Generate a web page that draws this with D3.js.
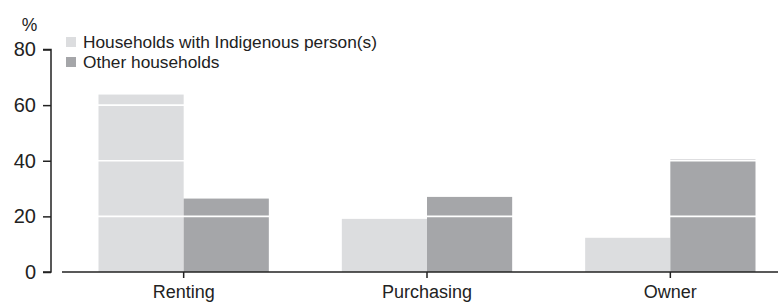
<!DOCTYPE html>
<html>
<head>
<meta charset="utf-8">
<script src="https://cdn.jsdelivr.net/npm/d3@7"></script>
<style>
  body { margin: 0; background: #fff; }
  svg text { font-family: "Liberation Sans", Arial, sans-serif; fill: #222; }
</style>
</head>
<body>
<div id="chart"></div>
<script>
var categories = ['Renting', 'Purchasing', 'Owner'];
var seriesNames = ['Households with Indigenous person(s)', 'Other households'];
var indigenous = [63.8, 19.1, 12.3];
var other = [26.4, 27.0, 40.4];
var yTicks = [0, 20, 40, 60, 80];

var colors = ['#dcdddf', '#a5a6a9'];

var width = 778, height = 302;
var margin = { left: 62, right: -14, top: 49.5, bottom: 30 };

var svg = d3.select('#chart')
    .append('svg')
    .attr('width', width)
    .attr('height', height);

var x = d3.scaleBand()
    .domain(categories)
    .range([margin.left, width - margin.right])
    .paddingInner(0.3)
    .paddingOuter(0.15);

var xs = d3.scaleBand()
    .domain([0, 1])
    .range([0, x.bandwidth()]);

var y = d3.scaleLinear()
    .domain([0, 80])
    .range([height - margin.bottom, margin.top]);

var rows = categories.map(function(c, i) {
    return { cat: c, values: [indigenous[i], other[i]] };
});

// bars
var groups = svg.append('g')
    .selectAll('g')
    .data(rows)
    .enter()
    .append('g')
    .attr('transform', function(d) { return 'translate(' + x(d.cat) + ',0)'; });

groups.selectAll('rect')
    .data(function(d) { return d.values; })
    .enter()
    .append('rect')
    .attr('x', function(d, i) { return xs(i); })
    .attr('width', xs.bandwidth())
    .attr('y', function(d) { return y(d); })
    .attr('height', function(d) { return y(0) - y(d); })
    .attr('fill', function(d, i) { return colors[i]; });

// white gridlines over the bars
svg.append('g')
    .selectAll('line')
    .data(yTicks.filter(function(t) { return t > 0; }))
    .enter()
    .append('line')
    .attr('x1', margin.left)
    .attr('x2', width)
    .attr('y1', function(d) { return y(d); })
    .attr('y2', function(d) { return y(d); })
    .attr('stroke', '#fff')
    .attr('stroke-width', 1.6);

// y axis
var yAxis = d3.axisLeft(y)
    .tickValues(yTicks)
    .tickSize(8)
    .tickPadding(7);

var gy = svg.append('g')
    .attr('transform', 'translate(51,0)')
    .call(yAxis);
gy.select('.domain').attr('stroke', '#222').attr('stroke-width', 1.5)
    .attr('d', 'M-8,' + y(80) + 'H0V' + y(0) + 'H-8');
gy.selectAll('.tick line').attr('stroke', '#222').attr('stroke-width', 1.5);
gy.selectAll('.tick text').style('font-size', '20px').attr('fill', '#222');

// x axis
var xAxis = d3.axisBottom(x)
    .tickSize(6)
    .tickPadding(7);

var gx = svg.append('g')
    .attr('transform', 'translate(0,' + y(0) + ')')
    .call(xAxis);
gx.select('.domain').attr('stroke', '#222').attr('stroke-width', 1.5)
    .attr('d', 'M' + margin.left + ',0H' + width);
gx.selectAll('.tick line').attr('stroke', '#222').attr('stroke-width', 1.5);
gx.selectAll('.tick text').style('font-size', '18px').attr('fill', '#222');

// unit label
svg.append('text')
    .attr('x', 29.5)
    .attr('y', 31)
    .attr('text-anchor', 'middle')
    .style('font-size', '17.5px')
    .text('%');

// legend
var legend = svg.append('g')
    .selectAll('g')
    .data(seriesNames)
    .enter()
    .append('g')
    .attr('transform', function(d, i) { return 'translate(66,' + (37 + i * 20) + ')'; });

legend.append('rect')
    .attr('width', 10)
    .attr('height', 10)
    .attr('fill', function(d, i) { return colors[i]; });

legend.append('text')
    .attr('x', 17)
    .attr('y', 10.5)
    .style('font-size', '17.3px')
    .text(function(d) { return d; });
</script>
</body>
</html>
